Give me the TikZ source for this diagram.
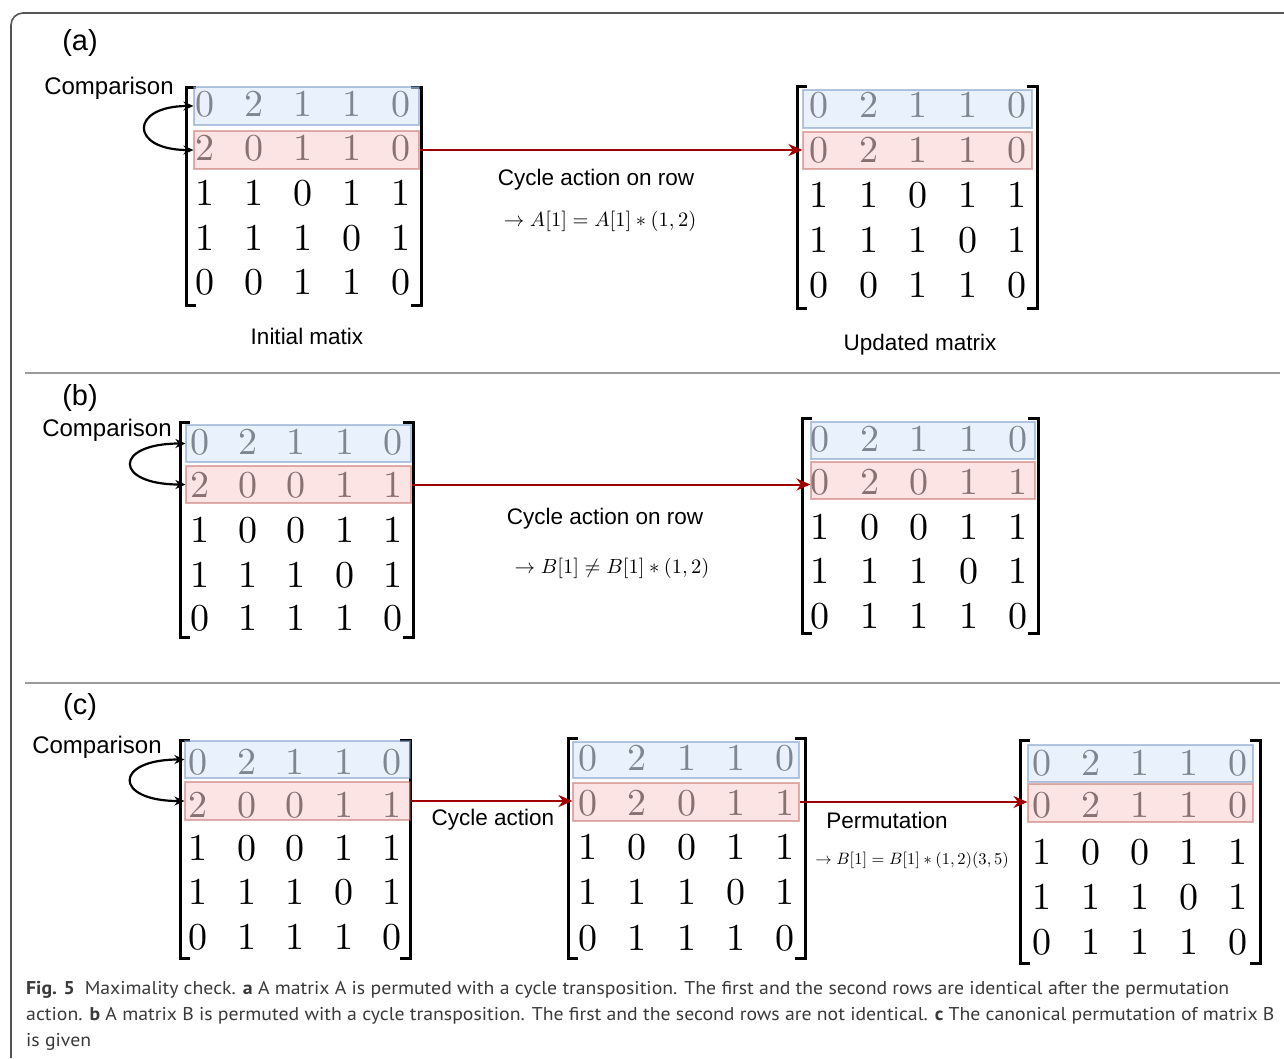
\documentclass[tikz,border=0pt]{standalone}
\usepackage{fontspec}
\usetikzlibrary{arrows.meta}
\newfontfamily\labfont{Liberation Sans}
\newfontfamily\capfont{PT Sans}
\newfontfamily\digfont{lmroman10-regular.otf}
\definecolor{fillblue}{HTML}{DAE8FC}
\definecolor{edgeblue}{HTML}{6C8EBF}
\definecolor{fillred}{HTML}{F8CECC}
\definecolor{edgered}{HTML}{B85450}
\definecolor{arrred}{HTML}{A00000}
\definecolor{framegray}{HTML}{555555}
\definecolor{sepgray}{HTML}{9A9A9A}
\definecolor{captext}{HTML}{3A3A3A}
\newcommand\mrow[5]{\foreach \v [count=\i] in {#5} {\node[dig] (#1\i) at ({#2+(\i-1)*#3},#4) {\v};}}
\newcommand\mbrk[4]{%
  \draw[brk] ({#1+10},#3) -- (#1,#3) -- (#1,#4) -- ({#1+10},#4);
  \draw[brk] ({#2-10},#3) -- (#2,#3) -- (#2,#4) -- ({#2-10},#4);}
\newcommand\bigmath[2]{\scalebox{#1}{\fontsize{10}{12}\selectfont$#2$}}
\newlength\capw
\newsavebox\capboxa
\newsavebox\capboxb
\newsavebox\capboxc
\begin{document}
\sbox\capboxa{\capfont\fontsize{18.5}{22}\selectfont\color{captext}\textbf{Fig. 5}\enspace Maximality check. \textbf{a} A matrix A is permuted with a cycle transposition. The first and the second rows are identical after the permutation}%
\sbox\capboxb{\capfont\fontsize{18.5}{22}\selectfont\color{captext}action. \textbf{b} A matrix B is permuted with a cycle transposition. The first and the second rows are not identical. \textbf{c} The canonical permutation of matrix B}%
\sbox\capboxc{\capfont\fontsize{18.5}{22}\selectfont\color{captext}is given}%
\setlength\capw{\wd\capboxa}%
\pgfmathsetmacro\capsx{1203pt/\capw}%
\begin{tikzpicture}[x=1pt,y=-1pt,
  dig/.style={font=\digfont\fontsize{38}{40}\selectfont, inner sep=0pt, anchor=center},
  brk/.style={line width=3pt, black, line cap=butt, line join=miter},
  bluebox/.style={draw=edgeblue, fill=fillblue, fill opacity=0.58, draw opacity=0.5, line width=1.2pt, inner sep=0pt},
  redbox/.style={draw=edgered, fill=fillred, fill opacity=0.55, draw opacity=0.45, line width=1.2pt, inner sep=0pt},
  lab/.style={font=\labfont\fontsize{22.5}{26}\selectfont, inner sep=0pt},
  cmplab/.style={font=\labfont\fontsize{24}{28}\selectfont, inner sep=0pt},
  plab/.style={font=\labfont\fontsize{29}{32}\selectfont, inner sep=0pt},
  mth/.style={inner sep=0pt},
  redarr/.style={arrred, line width=2pt, -{Stealth[length=14pt,width=12pt]}},
  cmp/.style={black, line width=2.2pt, {Stealth[length=10pt,width=9pt]}-{Stealth[length=10pt,width=9pt]}},
]
\useasboundingbox (0,0) rectangle (1284,1058);
\fill[white] (0,0) rectangle (1284,1058);
% frame and separators
\draw[framegray, line width=1.6pt, rounded corners=12pt] (11,1058) -- (11,13) -- (1284,13);
\draw[sepgray, line width=2pt] (25,373) -- (1280,373);
\draw[sepgray, line width=2pt] (25,683) -- (1280,683);

% ===== (a) =====
\node[plab] (pa) at (80,43) {(a)};
\mrow{aL1-}{205}{49}{104}{0,2,1,1,0}
\mrow{aL2-}{205}{49}{148}{2,0,1,1,0}
\mrow{aL3-}{205}{49}{193}{1,1,0,1,1}
\mrow{aL4-}{205}{49}{238}{1,1,1,0,1}
\mrow{aL5-}{205}{49}{282}{0,0,1,1,0}
\mbrk{186}{421}{87}{305}
\node[bluebox, minimum width=225pt, minimum height=38pt] (aLB) at (306.5,106) {};
\node[redbox, minimum width=225pt, minimum height=38pt] (aLR) at (306.5,150) {};
\mrow{aR1-}{819}{49.5}{105}{0,2,1,1,0}
\mrow{aR2-}{819}{49.5}{150}{0,2,1,1,0}
\mrow{aR3-}{819}{49.5}{195}{1,1,0,1,1}
\mrow{aR4-}{819}{49.5}{240}{1,1,1,0,1}
\mrow{aR5-}{819}{49.5}{285}{0,0,1,1,0}
\mbrk{797}{1037}{86}{308}
\node[bluebox, minimum width=229pt, minimum height=38pt] (aRB) at (917.5,109) {};
\node[redbox, minimum width=229pt, minimum height=37pt] (aRR) at (917.5,150.5) {};
\node[cmplab] (acmp) at (109,88) {Comparison};
\draw[cmp] (aLB.west) .. controls +(-64,0) and +(-64,0) .. (aLR.west);
\draw[redarr] (aLR.east) -- (aLR.east -| aRR.west);
\node[lab] (acyc) at (596,180) {Cycle action on row};
\node[mth] (amth) at (600,221) {\bigmath{2.05}{\to A[1] = A[1] * (1,2)}};
\node[lab] (aini) at (307,336) {Initial matix};
\node[lab] (aupd) at (920,345) {Updated matrix};

% ===== (b) =====
\node[plab] (pb) at (80,398) {(b)};
\mrow{bL1-}{200}{48.2}{442}{0,2,1,1,0}
\mrow{bL2-}{200}{48.2}{485}{2,0,0,1,1}
\mrow{bL3-}{200}{48.2}{530}{1,0,0,1,1}
\mrow{bL4-}{200}{48.2}{575}{1,1,1,0,1}
\mrow{bL5-}{200}{48.2}{618}{0,1,1,1,0}
\mbrk{180}{413}{422}{637}
\node[bluebox, minimum width=225pt, minimum height=37pt] (bLB) at (298.5,443.5) {};
\node[redbox, minimum width=225pt, minimum height=37pt] (bLR) at (298.5,484.5) {};
\mrow{bR1-}{820}{49.5}{439}{0,2,1,1,0}
\mrow{bR2-}{820}{49.5}{482}{0,2,0,1,1}
\mrow{bR3-}{820}{49.5}{527}{1,0,0,1,1}
\mrow{bR4-}{820}{49.5}{571}{1,1,1,0,1}
\mrow{bR5-}{820}{49.5}{616}{0,1,1,1,0}
\mbrk{802}{1038}{418}{633}
\node[bluebox, minimum width=224pt, minimum height=37pt] (bRB) at (923,440.5) {};
\node[redbox, minimum width=224pt, minimum height=37pt] (bRR) at (923,480.5) {};
\node[cmplab] (bcmp) at (107,430) {Comparison};
\draw[cmp] (bLB.west) .. controls +(-72,0) and +(-72,0) .. (bLR.west);
\draw[redarr] (bLR.east) -- (bLR.east -| bRR.west);
\node[lab] (bcyc) at (605,519) {Cycle action on row};
\node[mth] (bmth) at (612,568) {\bigmath{2.05}{\to B[1] \neq B[1] * (1,2)}};

% ===== (c) =====
\node[plab] (pc) at (80,707) {(c)};
\mrow{cL1-}{198}{48.5}{762}{0,2,1,1,0}
\mrow{cL2-}{198}{48.5}{805}{2,0,0,1,1}
\mrow{cL3-}{198}{48.5}{848}{1,0,0,1,1}
\mrow{cL4-}{198}{48.5}{892}{1,1,1,0,1}
\mrow{cL5-}{198}{48.5}{937}{0,1,1,1,0}
\mbrk{180}{410}{740}{958}
\node[bluebox, minimum width=225pt, minimum height=37pt] (cLB) at (297.5,759.5) {};
\node[redbox, minimum width=225pt, minimum height=38pt] (cLR) at (297.5,801) {};
\mrow{cM1-}{588}{49.3}{758}{0,2,1,1,0}
\mrow{cM2-}{588}{49.3}{803}{0,2,0,1,1}
\mrow{cM3-}{588}{49.3}{847}{1,0,0,1,1}
\mrow{cM4-}{588}{49.3}{892}{1,1,1,0,1}
\mrow{cM5-}{588}{49.3}{938}{0,1,1,1,0}
\mbrk{568}{805}{738}{958}
\node[bluebox, minimum width=226pt, minimum height=36pt] (cMB) at (686,760) {};
\node[redbox, minimum width=226pt, minimum height=38pt] (cMR) at (686,802) {};
\mrow{cR1-}{1042}{49}{763}{0,2,1,1,0}
\mrow{cR2-}{1042}{49}{805}{0,2,1,1,0}
\mrow{cR3-}{1042}{49}{852}{1,0,0,1,1}
\mrow{cR4-}{1042}{49}{897}{1,1,1,0,1}
\mrow{cR5-}{1042}{49}{942}{0,1,1,1,0}
\mbrk{1020}{1260}{740}{963}
\node[bluebox, minimum width=225pt, minimum height=37pt] (cRB) at (1140.5,763.5) {};
\node[redbox, minimum width=225pt, minimum height=38pt] (cRR) at (1140.5,803) {};
\node[cmplab] (ccmp) at (97,747) {Comparison};
\draw[cmp] (cLB.west) .. controls +(-71,0) and +(-71,0) .. (cLR.west);
\draw[redarr] (cLR.east) -- (cLR.east -| cMR.west);
\draw[redarr] (cMR.east) -- (cMR.east -| cRR.west);
\node[lab] (ccyc) at (493,820) {Cycle action};
\node[lab] (cper) at (887,820) {Permutation};
\node[mth] (cmth) at (912,860) {\bigmath{1.65}{\to B[1] = B[1] * (1,2)(3,5)}};

% ===== caption =====
\node[anchor=base west, inner sep=0pt] (cap1) at (26,994) {\scalebox{\capsx}[1]{\usebox\capboxa}};
\node[anchor=base west, inner sep=0pt] (cap2) at (26,1020) {\scalebox{\capsx}[1]{\usebox\capboxb}};
\node[anchor=base west, inner sep=0pt] (cap3) at (26,1046) {\scalebox{\capsx}[1]{\usebox\capboxc}};
\end{tikzpicture}
\end{document}
